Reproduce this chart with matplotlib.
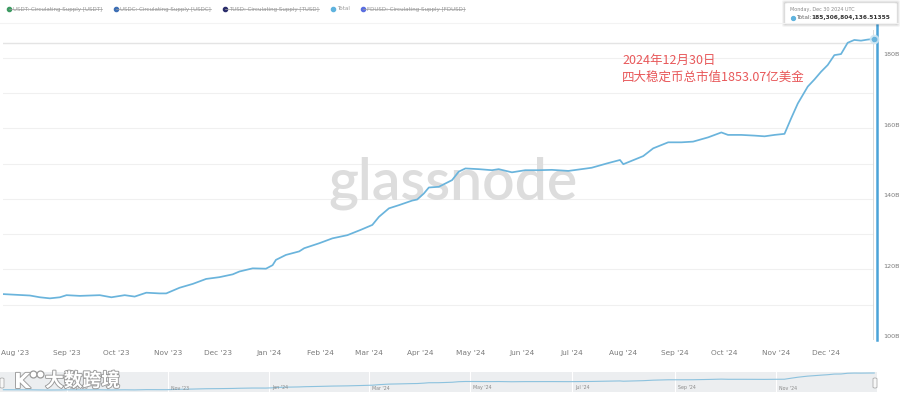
import matplotlib
matplotlib.use('Agg')
import matplotlib.pyplot as plt
import matplotlib.dates as mdates
import matplotlib.patheffects as pe
from matplotlib.patches import FancyBboxPatch
from matplotlib.lines import Line2D
import pandas as pd

# total stablecoin supply, billions USD
dates = [
    '2023-07-25', '2023-08-10', '2023-08-16', '2023-08-22', '2023-08-28', '2023-09-01',
    '2023-09-09', '2023-09-21', '2023-09-28', '2023-10-06', '2023-10-12', '2023-10-19',
    '2023-10-27', '2023-10-31', '2023-11-08', '2023-11-16', '2023-11-24', '2023-12-02',
    '2023-12-10', '2023-12-14', '2023-12-22', '2023-12-30', '2024-01-03', '2024-01-05',
    '2024-01-11', '2024-01-19', '2024-01-22', '2024-01-31', '2024-02-08', '2024-02-17',
    '2024-02-25', '2024-03-03', '2024-03-07', '2024-03-13', '2024-03-19', '2024-03-27',
    '2024-03-30', '2024-04-03', '2024-04-06', '2024-04-12', '2024-04-20', '2024-04-24',
    '2024-04-28', '2024-05-06', '2024-05-14', '2024-05-18', '2024-05-26', '2024-06-03',
    '2024-06-11', '2024-06-19', '2024-06-29', '2024-07-10', '2024-07-13', '2024-07-22',
    '2024-07-30', '2024-08-01', '2024-08-13', '2024-08-19', '2024-08-28', '2024-09-05',
    '2024-09-12', '2024-09-21', '2024-09-29', '2024-10-03', '2024-10-11', '2024-10-19',
    '2024-10-25', '2024-10-31', '2024-11-06', '2024-11-10', '2024-11-14', '2024-11-20',
    '2024-11-24', '2024-11-28', '2024-12-02', '2024-12-06', '2024-12-10', '2024-12-14',
    '2024-12-18', '2024-12-22', '2024-12-26', '2024-12-30',
]
total_b = [
    113.0, 112.6, 112.1, 111.8, 112.1, 112.7,
    112.5, 112.7, 112.1, 112.7, 112.3, 113.4,
    113.2, 113.2, 114.8, 115.9, 117.3, 117.8,
    118.6, 119.4, 120.3, 120.2, 121.2, 122.7,
    124.1, 125.1, 126.0, 127.4, 128.8, 129.7,
    131.2, 132.6, 134.9, 137.3, 138.2, 139.5,
    139.8, 141.5, 143.2, 143.4, 145.3, 147.7,
    148.6, 148.4, 148.1, 148.4, 147.5, 148.1,
    148.1, 148.2, 147.9, 148.6, 148.8, 150.0,
    151.0, 149.8, 152.1, 154.3, 156.0, 156.0,
    156.2, 157.4, 158.8, 158.1, 158.1, 157.9,
    157.7, 158.1, 158.4, 162.8, 167.0, 171.8,
    173.8, 176.0, 177.9, 180.7, 181.0, 184.2,
    185.0, 184.8, 185.1, 185.3,
]

legend_names = ['USDT: Circulating Supply [USDT]', 'USDC: Circulating Supply [USDC]',
                'TUSD: Circulating Supply [TUSD]', 'Total', 'FDUSD: Circulating Supply [FDUSD]']
legend_colors = ['#3d9a62', '#3e6fb5', '#2b2d6b', '#5fb3de', '#5a6ee0']
legend_hidden = [True, True, True, False, True]

month_ticks = pd.date_range('2023-08-01', '2024-12-01', freq='MS')
nav_ticks = pd.date_range('2023-09-01', '2024-11-01', freq='2MS')
y_ticks = [100, 120, 140, 160, 180]
grid_vals = [110, 120, 130, 140, 150, 160, 170, 180]

W, H = 900, 396
CJK = ['Noto Sans CJK SC', 'DejaVu Sans']
LINE_C = '#6ab4dc'


def fx(px):
    return px / W


def fy(py):
    return 1 - py / H


AUG1 = mdates.date2num(pd.Timestamp('2023-08-01'))


def px_to_num(px):
    return AUG1 + (px - 15) / 1.662


d = pd.to_datetime(dates)
fig = plt.figure(figsize=(W / 100, H / 100), dpi=100)

# main panel
ax = fig.add_axes([fx(3), fy(340), fx(877) - fx(3), fy(30) - fy(340)])
ax.set_xlim(px_to_num(3), px_to_num(877))
ax.set_ylim(100, 100 + 310 / 3.53)
for s in ax.spines.values():
    s.set_visible(False)
ax.set_xticks([])
ax.set_yticks([])

gx = (873 - 3) / (877 - 3)
for g in grid_vals:
    ax.axhline(g, xmax=gx, color='#f0f0f0', lw=0.8, zorder=0)
ax.axhline(184.1, xmax=gx, color='#e4e4e4', lw=1.0, zorder=0)

ax.text(0.515, 0.505, 'glassnode', transform=ax.transAxes, fontsize=41, family='Lato',
        weight='semibold', color='#dddddd', ha='center', va='center', zorder=1)

ax.plot(d, total_b, color=LINE_C, lw=1.25, zorder=3, solid_joinstyle='round')

# hover crosshair and point
ax.axvline(px_to_num(873), color='#dadada', lw=0.7, zorder=2)
ax.axvline(px_to_num(876.5), ymin=0, ymax=(340 - 5) / 310, clip_on=False,
           color='#4aa3d8', lw=1.8, zorder=4)
ax.plot(d[-1], total_b[-1], 'o', ms=6, color='#cfe6f3', alpha=0.8, zorder=5, clip_on=False)
ax.plot(d[-1], total_b[-1], 'o', ms=3, color=LINE_C, zorder=6, clip_on=False)

for m in month_ticks:
    ax.annotate(m.strftime("%b '%y"), xy=(mdates.date2num(m), 0), xycoords=('data', 'axes fraction'),
                xytext=(0, -13), textcoords='offset pixels', ha='center', va='center',
                fontsize=5.3, color='#7a7a7a')
for v in y_ticks:
    ax.annotate(f'{v}B', xy=(1, v), xycoords=('axes fraction', 'data'),
                xytext=(6, 3), textcoords='offset pixels', ha='left', va='center',
                fontsize=4.6, color='#7a7a7a')

ax.text(fx(622), fy(60), '2024年12月30日', transform=fig.transFigure, family=CJK,
        fontsize=9, color='#e8585a', ha='left', va='center')
ax.text(fx(622), fy(77), '四大稳定币总市值1853.07亿美金', transform=fig.transFigure, family=CJK,
        fontsize=9, color='#e8585a', ha='left', va='center')

# legend row
fig.add_artist(Line2D([0, 1], [fy(23), fy(23)], color='#f3f3f3', lw=0.8, transform=fig.transFigure))
marker_x = [9, 116, 225, 333, 363]
renderer = fig.canvas.get_renderer()
for name, c, off, mx in zip(legend_names, legend_colors, legend_hidden, marker_x):
    fig.add_artist(Line2D([fx(mx)], [fy(9)], marker='o', ms=3, color=c, lw=0,
                          transform=fig.transFigure))
    t = fig.text(fx(mx + 4), fy(9), name, fontsize=3.95, color='#9a9a9a', ha='left', va='center')
    if off:
        bb = t.get_window_extent(renderer=renderer)
        fig.add_artist(Line2D([fx(mx), bb.x1 / W], [fy(9), fy(9)], color='#9a9a9a', lw=0.5,
                              transform=fig.transFigure))

# tooltip
for k, a in [(3, 0.04), (2, 0.06), (1, 0.08)]:
    fig.add_artist(FancyBboxPatch((fx(785 - k), fy(24 + k)), fx(112 + 2 * k), (21 + 2 * k) / H,
                                  boxstyle='round,pad=0,rounding_size=0.003', transform=fig.transFigure,
                                  facecolor='black', edgecolor='none', alpha=a))
fig.add_artist(FancyBboxPatch((fx(785), fy(24)), fx(112), 21 / H,
                              boxstyle='round,pad=0,rounding_size=0.003', transform=fig.transFigure,
                              facecolor='white', edgecolor='#eeeeee', lw=0.5))
fig.text(fx(790), fy(10), 'Monday, Dec 30 2024 UTC', fontsize=3.5, color='#8a8a8a', va='center')
fig.add_artist(Line2D([fx(793)], [fy(17.5)], marker='o', ms=2.8, color='#5fb3de', lw=0,
                      transform=fig.transFigure))
fig.text(fx(796), fy(17.5), 'Total:', fontsize=4.2, color='#666666', va='center')
fig.text(fx(811), fy(17.5), '185,306,804,136.51355', fontsize=4.2, color='#333333',
         weight='bold', va='center')

# navigator strip
nav = fig.add_axes([0, fy(392), fx(877), (392 - 372) / H])
nav.set_facecolor('#eceef0')
nav.set_xlim(px_to_num(0), px_to_num(877))
nav.set_ylim(103.2, 189.6)
for s in nav.spines.values():
    s.set_visible(False)
nav.set_xticks([])
nav.set_yticks([])
for t in nav_ticks:
    nav.axvline(mdates.date2num(t), color='#ffffff', lw=0.8, zorder=1)
    nav.annotate(t.strftime("%b '%y"), xy=(mdates.date2num(t), 0), xycoords=('data', 'axes fraction'),
                 xytext=(3, 4), textcoords='offset pixels', ha='left', va='center',
                 fontsize=3.4, color='#8a8a8a')
nav.plot(d, total_b, color='#8cc2de', lw=0.8, zorder=2)
for hx in [0, 873]:
    fig.add_artist(FancyBboxPatch((fx(hx), fy(388)), fx(4), 10 / H,
                                  boxstyle='round,pad=0,rounding_size=0.002', transform=fig.transFigure,
                                  facecolor='#f7f7f7', edgecolor='#a0a0a0', lw=0.5))

# site watermark bottom-left
wm = [pe.withStroke(linewidth=1.3, foreground='#9a9a9a')]
fig.text(fx(14), fy(382), 'K', fontsize=15, family='DejaVu Sans', weight='bold', color='white',
         va='center', path_effects=wm)
for cx in [33, 40]:
    fig.add_artist(Line2D([fx(cx)], [fy(374)], marker='o', ms=5, mfc='white', mec='#9a9a9a',
                          mew=0.9, lw=0, transform=fig.transFigure))
fig.text(fx(45), fy(381), '大数跨境', fontsize=13.5, family=CJK, weight='bold', color='white',
         va='center', path_effects=wm)

fig.savefig('out.png', dpi=100)
